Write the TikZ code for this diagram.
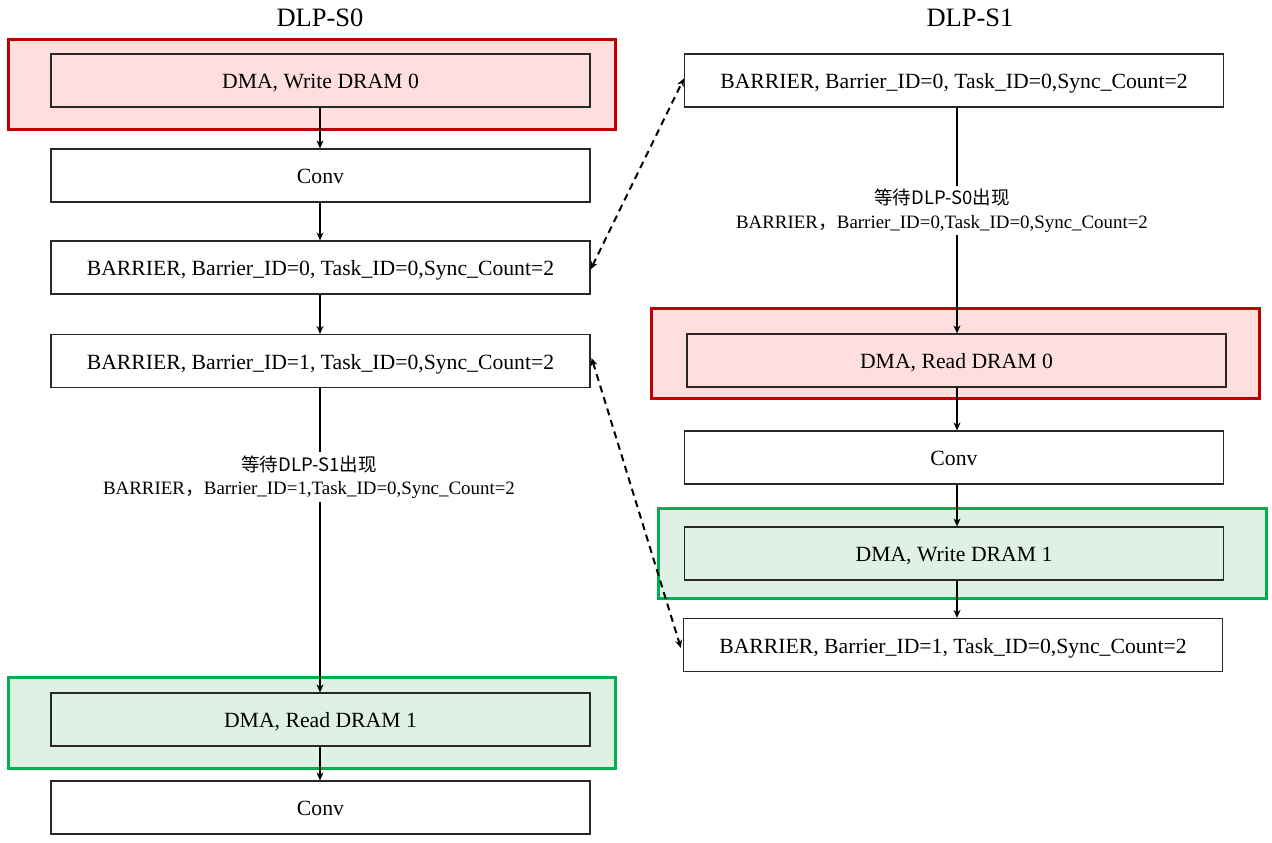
\documentclass[tikz,border=0pt]{standalone}
\usepackage{fontspec}
\setmainfont{Liberation Serif}
\newfontfamily\cjk{Noto Sans CJK SC}
\usetikzlibrary{arrows.meta}
\definecolor{redline}{RGB}{192,0,0}
\definecolor{redfill}{RGB}{255,222,222}
\definecolor{greenline}{RGB}{0,176,80}
\definecolor{greenfill}{RGB}{222,241,228}
\definecolor{boxline}{RGB}{40,40,40}
\tikzset{
  stepbox/.style={draw=boxline, line width=1.2pt, minimum width=539pt, minimum height=53pt, inner sep=0pt, text height=17pt, text depth=1pt, font=\fontsize{21.7}{25}\selectfont},
  redframe/.style={draw=redline, fill=redfill, line width=3pt, inner sep=0pt},
  greenframe/.style={draw=greenline, fill=greenfill, line width=3pt, inner sep=0pt},
  title/.style={font=\fontsize{26.5}{30}\selectfont},
  waitlabel/.style={align=center, inner sep=3pt, font=\fontsize{18.9}{23.5}\selectfont},
  flow/.style={line width=1.2pt, -{Stealth[length=8pt,width=7pt]}},
  plain/.style={line width=1.2pt},
  sync/.style={line width=2pt, dash pattern=on 7pt off 5pt, {Stealth[length=8pt,width=7pt]}-{Stealth[length=8pt,width=7pt]}}
}
\begin{document}
\begin{tikzpicture}[x=1pt,y=-1pt]
\useasboundingbox (0,0) rectangle (1272,843);
% titles
\node[title] (t0) at (320,18) {DLP-S0};
\node[title] (t1) at (970,18) {DLP-S1};
% frames
\node[redframe, minimum width=607pt, minimum height=89pt] (fr0) at (311.5,84.5) {};
\node[greenframe, minimum width=607pt, minimum height=91pt] (fg0) at (311.5,722.5) {};
\node[redframe, minimum width=608pt, minimum height=90pt] (fr1) at (955,353) {};
\node[greenframe, minimum width=608pt, minimum height=90pt] (fg1) at (962,553) {};
% left column
\node[stepbox, fill=redfill] (a1) at (320.5,80.5) {DMA, Write DRAM 0};
\node[stepbox, fill=white] (a2) at (320.5,175.5) {Conv};
\node[stepbox, fill=white] (a3) at (320.5,267.5) {BARRIER, Barrier\_ID=0, Task\_ID=0,Sync\_Count=2};
\node[stepbox, fill=white] (a4) at (320.5,361) {BARRIER, Barrier\_ID=1, Task\_ID=0,Sync\_Count=2};
\node[waitlabel] (w0) at (309,477) {{\cjk\fontsize{18.5}{20}\selectfont 等待DLP-S1出现}\\BARRIER{\cjk ，}Barrier\_ID=1,Task\_ID=0,Sync\_Count=2};
\node[stepbox, fill=greenfill] (a5) at (320.5,719.5) {DMA, Read DRAM 1};
\node[stepbox, fill=white] (a6) at (320.5,807.5) {Conv};
% right column
\node[stepbox, fill=white] (b1) at (954,80.5) {BARRIER, Barrier\_ID=0, Task\_ID=0,Sync\_Count=2};
\node[waitlabel] (w1) at (942,210.5) {{\cjk\fontsize{18.5}{20}\selectfont 等待DLP-S0出现}\\BARRIER{\cjk ，}Barrier\_ID=0,Task\_ID=0,Sync\_Count=2};
\node[stepbox, fill=redfill] (b2) at (956.5,360.5) {DMA, Read DRAM 0};
\node[stepbox, fill=white] (b3) at (954,457.5) {Conv};
\node[stepbox, fill=greenfill] (b4) at (954,553.5) {DMA, Write DRAM 1};
\node[stepbox, fill=white] (b5) at (953,645) {BARRIER, Barrier\_ID=1, Task\_ID=0,Sync\_Count=2};
% left flow
\draw[flow] (a1.south -| 320,0) -- (a2.north -| 320,0);
\draw[flow] (a2.south -| 320,0) -- (a3.north -| 320,0);
\draw[flow] (a3.south -| 320,0) -- (a4.north -| 320,0);
\draw[plain] (a4.south -| 320,0) -- (w0.north -| 320,0);
\draw[flow] (w0.south -| 320,0) -- (a5.north -| 320,0);
\draw[flow] (a5.south -| 320,0) -- (a6.north -| 320,0);
% right flow
\draw[plain] (b1.south -| 957,0) -- (w1.north -| 957,0);
\draw[flow] (w1.south -| 957,0) -- (b2.north -| 957,0);
\draw[flow] (b2.south -| 957,0) -- (b3.north -| 957,0);
\draw[flow] (b3.south -| 957,0) -- (b4.north -| 957,0);
\draw[flow] (b4.south -| 957,0) -- (b5.north -| 957,0);
% sync arrows
\draw[sync] ([yshift=-2pt]a3.east) -- ([yshift=2pt]b1.west);
\draw[sync] ([xshift=1pt,yshift=3pt]a4.east) -- ([xshift=-2pt,yshift=-3pt]b5.west);
\end{tikzpicture}
\end{document}
